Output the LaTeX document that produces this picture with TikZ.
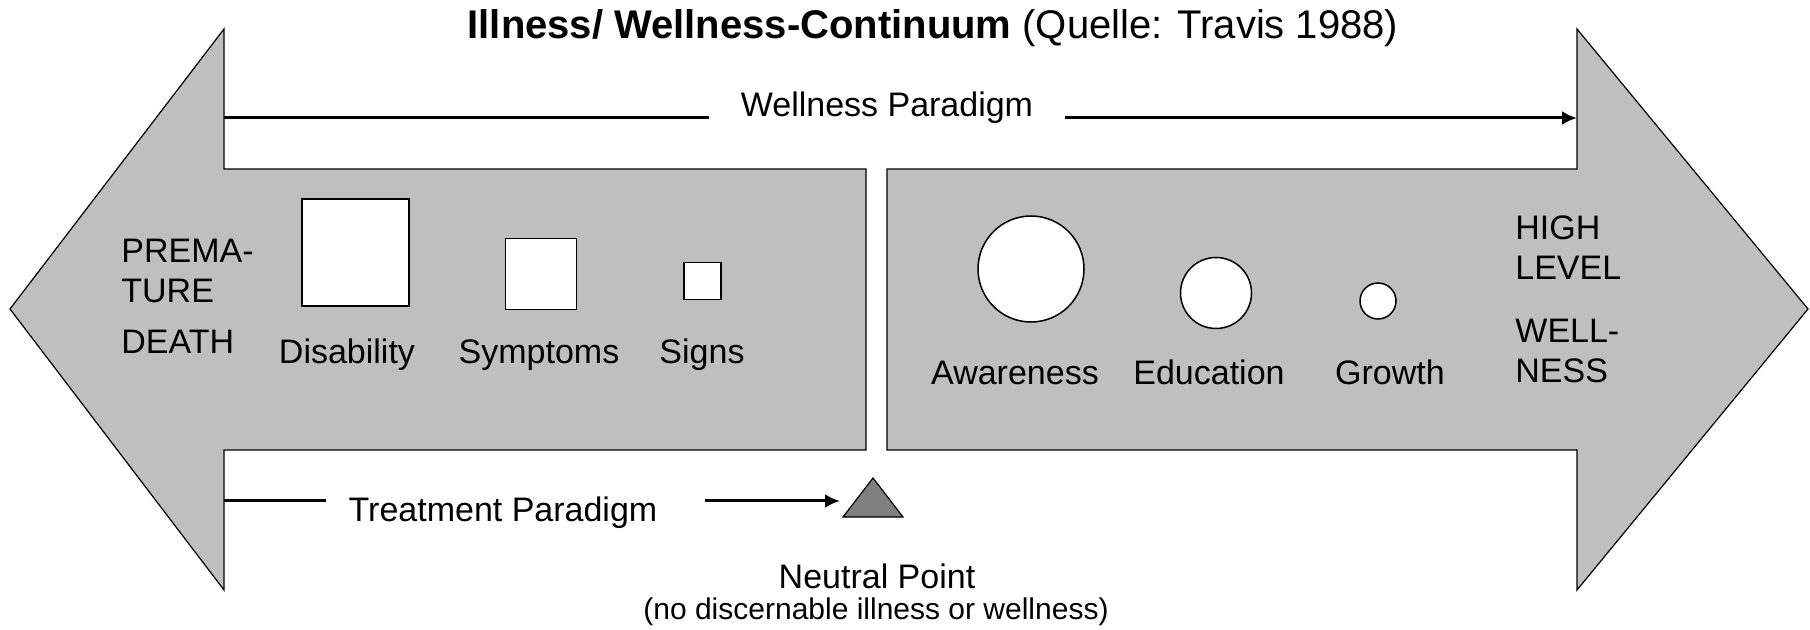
\documentclass[tikz,border=0pt]{standalone}
\usepackage{fontspec}
\setmainfont{Liberation Sans}
\usetikzlibrary{arrows.meta}

\begin{document}
\begin{tikzpicture}[x=0.5pt, y=-0.5pt,
    bigarrow/.style={fill=black!25, draw=black, line width=0.6pt},
    pline/.style={draw=black, line width=1.5pt},
    parrow/.style={pline, -{Latex[length=7.5pt, width=7pt]}},
    txt/.style={font=\fontsize{17}{20}\selectfont, inner sep=0pt, anchor=base},
    ltxt/.style={txt, anchor=base west},
    sqbox/.style={draw=black, fill=white, line width=0.75pt, inner sep=0pt},
    dot/.style={circle, draw=black, fill=white, line width=0.75pt, inner sep=0pt}]
    \useasboundingbox (0,0) rectangle (1810,630);

    % draw the two big arrows
    \draw[bigarrow] (224,29) -- (224,169) -- (866,169) -- (866,450) -- (224,450) -- (224,590) -- (10,309) -- cycle;
    \draw[bigarrow] (1577,29) -- (1808,309) -- (1577,590) -- (1577,450) -- (887,450) -- (887,169) -- (1577,169) -- cycle;

    % draw title
    \node[txt, font=\fontsize{20}{24}\selectfont] (title) at (933,39) {\textbf{Illness/ Wellness-Continuum} (Quelle: Travis 1988)};

    % draw wellness paradigm
    \coordinate (wstart) at (224,118);
    \coordinate (wend) at (1577,118);
    \node[txt] (wp) at (887,117) {Wellness Paradigm};
    \draw[pline, shorten >=15.5pt] (wstart) -- (wstart -| wp.west);
    \draw[parrow, shorten <=15.5pt] (wstart -| wp.east) -- (wend);

    % draw squares
    \foreach \x/\y/\s/\n in {355.5/252.5/53.5/disab, 541/274/35.5/sympt, 702.5/281/18.5/signs}
      \node[sqbox, minimum size=\s pt] (\n) at (\x,\y) {};

    % draw circles
    \foreach \x/\y/\s/\n in {1031/269/53/aware, 1216/293/35.5/educ, 1378/301/18/growth}
      \node[dot, minimum size=\s pt] (\n) at (\x,\y) {};

    % draw left labels
    \node[ltxt] (prema) at (121,263) {PREMA-};
    \node[ltxt] (ture) at (121,303) {TURE};
    \node[ltxt] (death) at (121,354) {DEATH};
    \node[txt] (ldisab) at (347,364) {Disability};
    \node[txt] (lsympt) at (539,364) {Symptoms};
    \node[txt] (lsigns) at (702,364) {Signs};

    % draw right labels
    \node[txt] (laware) at (1015,385) {Awareness};
    \node[txt] (leduc) at (1209,385) {Education};
    \node[txt] (lgrowth) at (1390,385) {Growth};
    \node[ltxt] (high) at (1515,240) {HIGH};
    \node[ltxt] (level) at (1515,280) {LEVEL};
    \node[ltxt] (well) at (1515,343) {WELL-};
    \node[ltxt] (ness) at (1515,383) {NESS};

    % draw treatment paradigm
    \coordinate (tstart) at (224,501);
    \coordinate (tend) at (840,501);
    \node[txt] (tp) at (503,522) {Treatment Paradigm};
    \draw[pline, shorten >=11pt] (tstart) -- (tstart -| tp.west);
    \draw[parrow, shorten <=23.5pt] (tstart -| tp.east) -- (tend);

    % draw neutral point
    \draw[fill=black!50, draw=black, line width=0.6pt] (843,517) -- (873,478) -- (903,517) -- cycle;
    \node[txt] (np) at (877,588) {Neutral Point};
    \node[txt, font=\fontsize{15}{18}\selectfont] (npnote) at (876,619) {(no discernable illness or wellness)};
  \end{tikzpicture}
\end{document}
